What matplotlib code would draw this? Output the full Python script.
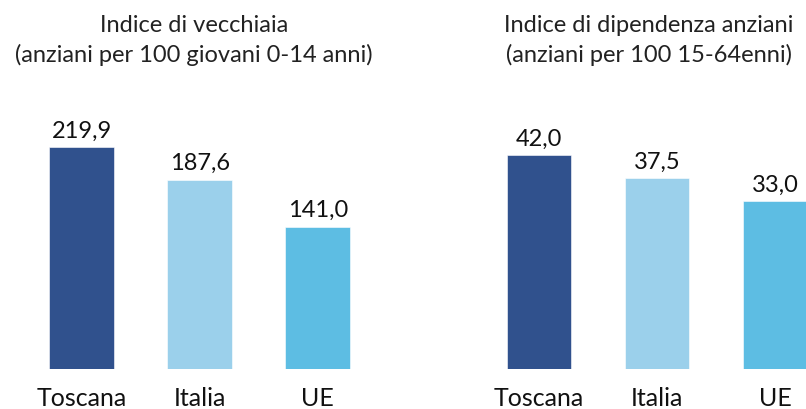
import numpy as np
import matplotlib.pyplot as plt

areas = ['Toscana', 'Italia', 'UE']
vecchiaia = [219.9, 187.6, 141.0]
dipendenza = [42.0, 37.5, 33.0]
titles = [('Indice di vecchiaia', '(anziani per 100 giovani 0-14 anni)'),
          ('Indice di dipendenza anziani', '(anziani per 100 15-64enni)')]
colors = ['#30518d', '#9bd0eb', '#5dbde3']

plt.rcParams['font.family'] = ['Lato', 'DejaVu Sans']

W, H = 806, 409
fig = plt.figure(figsize=(W / 100, H / 100), dpi=100)

# axes in pixel layout: bottom of bars at y=369, bar pitch 118 px
def px_axes(x0, x1):
    return fig.add_axes([x0 / W, (H - 369) / H, (x1 - x0) / W, 269 / H])

ax1 = px_axes(0, 403)
ax2 = px_axes(403, 806)

# (axes, values, first bar centre relative to axes left, px per unit, title centre)
panels = [(ax1, vecchiaia, 81.7, 1.008, 194),
          (ax2, dipendenza, 136.0, 5.09, 649)]

for (ax, vals, c0, scale, tx), title in zip(panels, titles):
    x = np.arange(len(vals))
    ax.bar(x, vals, width=0.55, color=colors, edgecolor='white', linewidth=0.4)
    ax.set_xlim(-c0 / 118, (403 - c0) / 118)
    ax.set_ylim(0, 269 / scale)
    for xi, v in zip(x, vals):
        ax.annotate(f'{v:.1f}'.replace('.', ','), (xi, v), xytext=(0, 4),
                    textcoords='offset points', ha='center', va='bottom',
                    fontsize=17, color='#111111', annotation_clip=False)
    for xi, name in zip(x, areas):
        ax.text(xi, -37 / scale, name, ha='center', va='baseline',
                fontsize=18, color='#111111')
    ax.set_xticks([])
    ax.set_yticks([])
    for s in ax.spines.values():
        s.set_visible(False)
    ax.patch.set_alpha(0)
    fig.text(tx / W, 1 - 32 / H, title[0], ha='center', va='baseline',
             fontsize=17, color='#222222')
    fig.text(tx / W, 1 - 62 / H, title[1], ha='center', va='baseline',
             fontsize=17, color='#222222')

fig.savefig('out.png', dpi=100)
